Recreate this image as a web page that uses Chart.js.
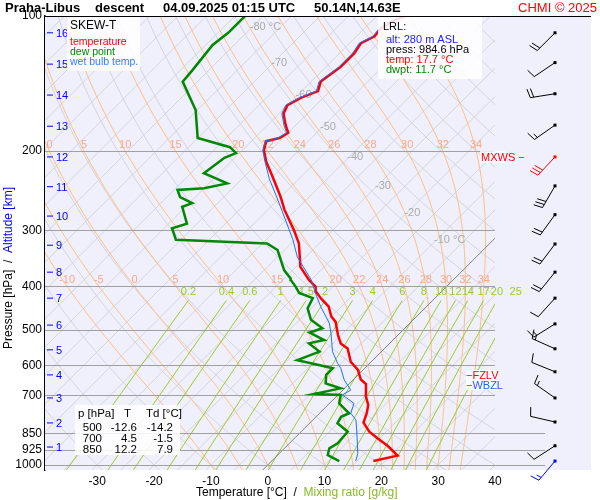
<!DOCTYPE html>
<html><head><meta charset="utf-8">
<script src="https://cdn.jsdelivr.net/npm/chart.js@4/dist/chart.umd.min.js"></script>
<style>html,body{margin:0;padding:0;background:#fff}#wrap{width:600px;height:500px}</style>
</head><body><div id="wrap"><canvas id="c" width="600" height="500"></canvas></div>
<script>
// ---- data ----
const tempP = [980,953,906,872,843,805,767,735,702,660,645,614,589,550,536,513,480,467,444,425,411,401,387,362,321,300,270,253,228,211,199,190,187,182,175,165,158,152,147,140,130,121,115,111,106.5,102,100];
const tempT = [17.9,21.2,17.7,14.6,12.0,9.4,8.3,7.1,5.1,3.0,1.3,-0.9,-3.6,-6.5,-8.6,-10.6,-13.3,-15.0,-17.2,-20.1,-22.1,-23.0,-25.4,-29.2,-33.6,-36.8,-42.1,-45.0,-50.0,-53.8,-56.2,-57.4,-55.6,-55.0,-56.8,-59.2,-60.0,-58.9,-57.1,-58.3,-57.4,-57.4,-58.0,-56.8,-57.1,-56.2,-54.9];
const dewP = [980,950,918,895,843,807,781,767,729,698,695,675,658,630,609,594,584,559,536,527,507,496,475,448,425,414,401,387,384,368,332,321,315,297,290,266,261,253,244,242,236,224,207,202,196,187,162,140,132,116,109,100];
const dewT = [11.9,8.8,7.9,8.5,8.2,4.9,4.4,5.2,1.7,0.5,-4.4,-0.7,-4.2,-5.6,-5.6,-10.1,-13.3,-10.9,-14.2,-12.1,-16.0,-14.5,-18.0,-20.6,-21.5,-24.8,-26.5,-28.6,-28.9,-31.5,-36.2,-39.2,-55.9,-58.6,-56.8,-60.6,-59.5,-62.7,-64.4,-60.0,-56.8,-62.7,-61.8,-60.6,-62.7,-70.0,-75.3,-82.6,-82.9,-83.8,-83.2,-83.2];
const wbP = [980,942,850,794,767,729,698,681,647,609,594,559,509,483,444,418,387,344,315,261,230,211,199,190,187,182,175,165,158,152,147,140,130,121,115,111,106.5,102,100];
const wbT = [14.8,13.8,10.1,7.6,5.5,4.3,0.8,1.4,-1.5,-4.2,-5.6,-8.6,-12.1,-14.2,-18.6,-21.5,-25.0,-31.5,-35.3,-44.2,-50.3,-54.0,-56.4,-57.6,-55.9,-55.3,-57.1,-59.5,-60.3,-59.2,-57.4,-58.6,-57.7,-57.7,-58.3,-57.1,-57.4,-56.5,-55.2];
const windP = [109,127,149,175,206,239,277,322,372,425,485,551,620,709,802,906,980];
const windDir = [225,236,261,235,223,210,216,217,219,222,238,294,292,305,283,237,220];
const windSpd = [20,10,20,15,30,30,20,20,20,10,15,15,10,15,10,10,15];
const pTicks = [100,200,300,400,500,600,700,850,925,1000];
const tTicks = [-30,-20,-10,0,10,20,30,40];
const kmLabels = [1,2,3,4,5,6,7,8,9,10,11,12,13,14,15,16];
const kmP = [912,806,709,630,554,488,425,372,324,279,240,206,176,150,128,109];
const mixW = [0.2,0.4,0.6,1,1.5,2,3,4,6,8,10,12,14,17,20,25];
const moistTop = [0,5,10,15,20,22,24,26,28,30,32,34];
const moistMid = [-10,-5,0,5,10,15,20,22,24,26,28,30,32,34];
const isoLabT = [-80,-70,-60,-50,-40,-30,-20,-10];
const isoLabP = [106,127,150,177,206,239,275,316];
const tableRows = [[500,-12.6,-14.2],[700,4.5,-1.5],[850,12.2,7.9]];

const SK = 34.4; // skew: degC per unit of ln(1000/p)
const sx = (T,p) => T + SK*Math.log(1000/p);
const pts = (P,T) => P.map((p,i)=>({x:sx(T[i],p), y:p}));
const FONT = '"Liberation Sans", Arial, sans-serif';

function es(Tc){return 6.112*Math.exp(17.67*Tc/(Tc+243.5));}
function moistCurve(tw){
  const Rd=287.04,cp=1005.7,Lv=2.501e6,eps=0.622;
  const f=(p,T)=>{const Tc=T-273.15;const e=es(Tc);const rs=eps*e/(p-e);
    return (Rd*T+Lv*rs)/(p*(cp+Lv*Lv*rs*eps/(Rd*T*T)));};
  const out=[]; let T=tw+273.15;
  let Td=T; for(let p=1000;p<1030;p+=5){Td+=f(p,Td)*5;}
  out.push([1030,Td-273.15]);
  for(let p=1000;p>=100;p-=5){out.push([p,T-273.15]); T-=f(p,T)*5;}
  out.sort((a,b)=>b[0]-a[0]); return out;
}
const moistCache={};
function moistT(tw,p){const c=moistCache[tw]||(moistCache[tw]=moistCurve(tw));
  for(let i=0;i<c.length-1;i++){if(c[i][0]>=p&&c[i+1][0]<=p){const r=(c[i][0]-p)/(c[i][0]-c[i+1][0]);return c[i][1]+r*(c[i+1][1]-c[i][1]);}} return c[c.length-1][1];}
function mixT(w,p){const e=w*p/(622+w);const l=Math.log(e/6.112);return 243.5*l/(17.67-l);}

const bg = {
  id:'bg',
  beforeDatasetsDraw(ch){
    const {ctx,chartArea:a,scales:{x,y}}=ch;
    const X=(T,p)=>x.getPixelForValue(sx(T,p)), Y=p=>y.getPixelForValue(p);
    ctx.save();
    ctx.fillStyle='#f0f0fc'; ctx.fillRect(a.left,a.top,a.right-a.left,a.bottom-a.top);
    const R=495;
    ctx.beginPath(); ctx.rect(a.left,a.top,R-a.left,a.bottom-a.top); ctx.clip();
    const poly=(fn,p0,p1,step)=>{ctx.beginPath();let first=true;for(let p=p0;p>=p1;p-=step){const px=fn(p);if(first){ctx.moveTo(px[0],px[1]);first=false;}else ctx.lineTo(px[0],px[1]);}ctx.stroke();};
    ctx.lineWidth=1;
    ctx.strokeStyle='#d4d4dc';
    for(let T=-160;T<=50;T+=5){ if(T===0)continue; ctx.beginPath();ctx.moveTo(X(T,1030),Y(1030));ctx.lineTo(X(T,100),Y(100));ctx.stroke();}
    for(let th=-30;th<=220;th+=10){poly(p=>{const T=(th+273.15)*Math.pow(p/1000,0.2857)-273.15;return [X(T,p),Y(p)];},1030,100,10);}
    ctx.strokeStyle='#ffbf80';
    const mv=[-10,-5,0,5,10,15,20,22,24,26,28,30,32,34];
    mv.forEach(tw=>poly(p=>[X(moistT(tw,p),p),Y(p)],1030,100,5));
    ctx.strokeStyle='#99cc22';
    mixW.forEach(w=>poly(p=>[X(mixT(w,p),p),Y(p)],1030,430,10));
    ctx.strokeStyle='#808080';ctx.beginPath();ctx.moveTo(X(0,1030),Y(1030));ctx.lineTo(X(0,100),Y(100));ctx.stroke();
    ctx.restore();
    ctx.save();
    ctx.strokeStyle='#a0a0a0';ctx.lineWidth=1.2;
    pTicks.forEach(p=>{const yy=Math.round(Y(p))+0.5;ctx.beginPath();ctx.moveTo(a.left,yy);ctx.lineTo(p>=850?545:R,yy);ctx.stroke();});
    ctx.font='11px '+FONT; ctx.textAlign='center'; ctx.textBaseline='middle';
    ctx.fillStyle='#f8a888';
    moistTop.forEach(tw=>{const xx=X(moistT(tw,200),200); if(xx>a.left+4&&xx<R-4) ctx.fillText(String(tw),xx,Y(200)-6);});
    moistMid.forEach(tw=>{const xx=X(moistT(tw,400),400); if(xx>a.left+4&&xx<R-4) ctx.fillText(String(tw),xx,Y(400)-6);});
    ctx.fillStyle='#99cc22';
    mixW.forEach(w=>{const xx=X(mixT(w,430),430); ctx.fillText(String(w),xx,Y(430)-8);});
    ctx.fillStyle='#aaaaaa'; ctx.textAlign='left';
    isoLabT.forEach((T,i)=>{const p=isoLabP[i];const lab=(i===0||i===isoLabT.length-1)?T+' °C':String(T);ctx.fillText(lab,X(T,p)-2,Y(p));});
    ctx.restore();
  },
  afterDatasetsDraw(ch){
    const {ctx,chartArea:a,scales:{x,y}}=ch;
    const Y=p=>y.getPixelForValue(p);
    ctx.save();
    ctx.fillStyle='#000';ctx.font='bold 13px '+FONT;ctx.textBaseline='middle';ctx.textAlign='left';
    ctx.fillText('Praha-Libus',5,8);ctx.fillText('descent',95,8);ctx.fillText('04.09.2025 01:15 UTC',163,8);ctx.fillText('50.14N,14.63E',314,8);
    ctx.fillStyle='#ff0000';ctx.font='13px '+FONT;ctx.textAlign='right';ctx.fillText('CHMI © 2025',597,8);
    ctx.strokeStyle='#000';ctx.lineWidth=1;ctx.beginPath();ctx.moveTo(a.left,16.5);ctx.lineTo(591,16.5);ctx.stroke();
    ctx.strokeStyle='#0000ff';ctx.fillStyle='#0000ff';ctx.font='11px '+FONT;ctx.textAlign='left';
    kmLabels.forEach((k,i)=>{const yy=Y(kmP[i]);ctx.beginPath();ctx.moveTo(47,yy);ctx.lineTo(53,yy);ctx.stroke();ctx.fillText(String(k),56,yy+1);});
    ctx.fillStyle='rgba(255,255,255,0.85)';ctx.fillRect(67,17,73,54);
    ctx.textAlign='left';ctx.font='12px '+FONT;ctx.fillStyle='#000';ctx.fillText('SKEW-T',70,26);
    ctx.font='10.5px '+FONT;
    ctx.fillStyle='#ff0000';ctx.fillText('temperature',70,42);
    ctx.fillStyle='#008800';ctx.fillText('dew point',70,52);
    ctx.fillStyle='#3080ff';ctx.fillText('wet bulb temp.',70,62);
    ctx.fillStyle='rgba(255,255,255,0.85)';ctx.fillRect(378,17,104,62);
    ctx.font='11px '+FONT;
    ctx.fillStyle='#000';ctx.fillText('LRL:',383,27);
    ctx.fillStyle='#2020ff';ctx.fillText('alt: 280 m ASL',386,40);
    ctx.fillStyle='#000';ctx.fillText('press: 984.6 hPa',386,50);
    ctx.fillStyle='#ff0000';ctx.fillText('temp: 17.7 °C',386,60);
    ctx.fillStyle='#008800';ctx.fillText('dwpt: 11.7 °C',386,70);
    ctx.fillStyle='rgba(255,255,255,0.85)';ctx.fillRect(75,405,105,50);
    ctx.font='11.5px '+FONT;ctx.fillStyle='#000';
    ctx.textAlign='left';ctx.fillText('p [hPa]',78,414);ctx.fillText('T',124,414);ctx.fillText('Td [°C]',146,414);
    tableRows.forEach((r,i)=>{const yy=428+i*11;ctx.textAlign='right';ctx.fillText(String(r[0]),102,yy);ctx.fillText(r[1].toFixed(1),137,yy);ctx.fillText(r[2].toFixed(1),173,yy);});
    ctx.font='11px '+FONT;ctx.textAlign='left';
    ctx.fillStyle='rgba(255,255,255,0.8)';ctx.fillRect(466,370,30,20);
    ctx.fillStyle='#ff0000';ctx.fillText('−FZLV',466,376);
    ctx.fillStyle='#2060ff';ctx.fillText('−WBZL',466,386);
    ctx.fillStyle='rgba(255,255,255,0.8)';ctx.fillRect(480,151,25,12);
    ctx.fillStyle='#ff0000';ctx.fillText('MXWS −',481,158);
    windP.forEach((p,i)=>{
      const bx=555, by=Y(p); const d=windDir[i]*Math.PI/180;
      const ux=Math.sin(d), uy=-Math.cos(d); const fx=-uy, fy=ux;
      const col=i===4?'#ff0000':(i===windP.length-1?'#0000ff':'#000');
      ctx.strokeStyle=col;ctx.fillStyle=col;ctx.lineWidth=1;
      const L=25; ctx.beginPath();ctx.moveTo(bx,by);ctx.lineTo(bx+ux*L,by+uy*L);
      let s=windSpd[i], k=0;
      while(s>=10){const px=bx+ux*(L-k*3.5),py=by+uy*(L-k*3.5);ctx.moveTo(px,py);ctx.lineTo(px+fx*9+ux*2,py+fy*9+uy*2);s-=10;k++;}
      if(s>=5){const px=bx+ux*(L-k*3.5),py=by+uy*(L-k*3.5);ctx.moveTo(px,py);ctx.lineTo(px+fx*5+ux*1,py+fy*5+uy*1);}
      ctx.stroke(); ctx.fillRect(bx-1.5,by-1.5,3,3);
    });
    ctx.font='12px '+FONT;ctx.textAlign='left';ctx.textBaseline='middle';
    let t1='Temperature [°C]  /  ', t2='Mixing ratio [g/kg]';
    ctx.fillStyle='#000';ctx.fillText(t1,196,493);const w1=ctx.measureText(t1).width;
    ctx.fillStyle='#88bb22';ctx.fillText(t2,196+w1,493);
    ctx.save();ctx.translate(9,268);ctx.rotate(-Math.PI/2);
    let s1='Pressure [hPa]  /  ', s2='Altitude [km]';
    const W=ctx.measureText(s1+s2).width;ctx.fillStyle='#000';ctx.fillText(s1,-W/2,0);
    ctx.fillStyle='#0000ff';ctx.fillText(s2,-W/2+ctx.measureText(s1).width,0);ctx.restore();
    ctx.restore();
  }
};

new Chart(document.getElementById('c'),{
  type:'line',
  data:{datasets:[
    {label:'wet bulb temp.',data:pts(wbP,wbT),borderColor:'#2070ff',borderWidth:1,pointRadius:0,tension:0},
    {label:'dew point',data:pts(dewP,dewT),borderColor:'#008800',borderWidth:2.5,pointRadius:0,tension:0},
    {label:'temperature',data:pts(tempP,tempT),borderColor:'#ff0000',borderWidth:2.5,pointRadius:0,tension:0}
  ]},
  options:{
    responsive:false,animation:false,devicePixelRatio:1,
    layout:{padding:{top:16,right:9,left:0,bottom:0}},
    plugins:{legend:{display:false},tooltip:{enabled:false}},
    scales:{
      x:{type:'linear',min:-39.2,max:56.9,
        afterBuildTicks:s=>{s.ticks=tTicks.map(v=>({value:v}));},
        afterFit:s=>{s.height=30;},
        grid:{display:false,drawTicks:false},border:{display:false},
        ticks:{color:'#000',font:{size:12,family:FONT},padding:4,maxRotation:0}},
      y:{type:'logarithmic',reverse:true,min:100,max:1026,
        afterBuildTicks:s=>{s.ticks=pTicks.map(v=>({value:v}));},
        afterFit:s=>{s.width=45;},
        grid:{display:false,drawTicks:false},border:{display:true,color:'#000',width:1.5},
        ticks:{color:'#000',font:{size:12,family:FONT},padding:3,callback:v=>String(v)}}
    }
  },
  plugins:[bg]
});
</script></body></html>
